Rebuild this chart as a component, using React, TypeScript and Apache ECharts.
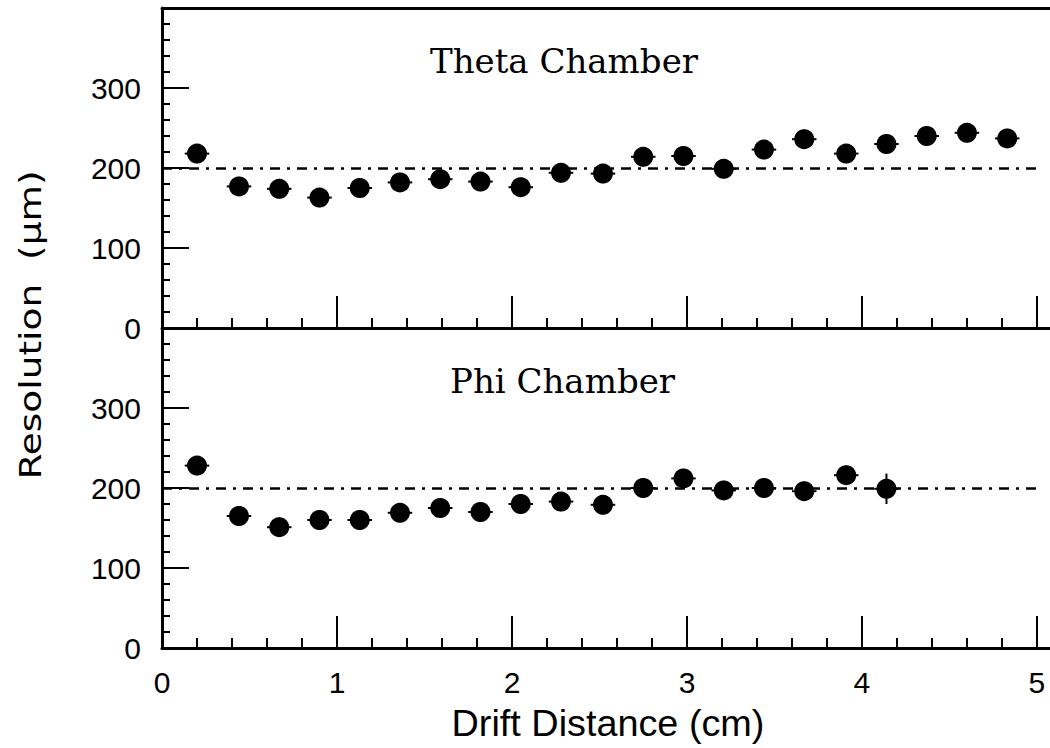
import React, { useEffect, useRef } from 'react';
import * as echarts from 'echarts';

// ---- data ----
const distance = [0.20, 0.44, 0.67, 0.90, 1.13, 1.36, 1.59, 1.82, 2.05, 2.28, 2.52, 2.75, 2.98, 3.21, 3.44, 3.67, 3.91, 4.14, 4.37, 4.60, 4.83];
const thetaResolution = [218, 177, 174, 163, 175, 182, 186, 183, 176, 194, 193, 214, 215, 199, 223, 236, 218, 230, 240, 244, 237];
const thetaError = [12, 12, 12, 12, 12, 12, 12, 12, 12, 12, 12, 12, 12, 12, 12, 12, 12, 12, 12, 12, 12];
const phiResolution = [228, 165, 151, 160, 160, 169, 175, 170, 180, 183, 179, 200, 212, 197, 200, 196, 216, 199];
const phiError = [12, 12, 12, 12, 12, 12, 12, 12, 12, 12, 12, 12, 12, 12, 12, 12, 12, 19];
const distanceHalfWidth = 0.07;
const referenceLevel = 200;
const panelTitles = ['Theta Chamber', 'Phi Chamber'];
const xTitle = 'Drift Distance (cm)';
const yTitle = 'Resolution  (\u03bcm)';
const xMin = 0;
const xMax = 5.246;
const xInterval = 1;
const yMin = 0;
const yMax = 400;
const yInterval = 100;

const INK = '#000';

function errorBars(api: any) {
  const x = api.value(0);
  const y = api.value(1);
  const e = api.value(2);
  const top = api.coord([x, y + e]);
  const bottom = api.coord([x, y - e]);
  const left = api.coord([x - distanceHalfWidth, y]);
  const right = api.coord([x + distanceHalfWidth, y]);
  const style = { stroke: INK, lineWidth: 2 };
  return {
    type: 'group',
    children: [
      { type: 'line', shape: { x1: top[0], y1: top[1], x2: bottom[0], y2: bottom[1] }, style },
      { type: 'line', shape: { x1: left[0], y1: left[1], x2: right[0], y2: right[1] }, style },
    ],
  };
}

function buildOption() {
  // the plot frame runs past the right edge of the picture, as in the cropped original
  const grids = [
    { left: 162, top: 8, width: 918, height: 320 },
    { left: 162, top: 328, width: 918, height: 320 },
  ];

  const xAxes: any[] = [0, 1].map((i) => ({
    type: 'value',
    gridIndex: i,
    position: 'bottom',
    min: xMin,
    max: xMax,
    interval: xInterval,
    axisLine: { show: true, onZero: false, lineStyle: { color: INK, width: 3 } },
    axisTick: { show: true, inside: true, length: 32, lineStyle: { color: INK, width: 2 } },
    minorTick: { show: true, splitNumber: 5, length: 10, lineStyle: { color: INK, width: 2 } },
    splitLine: { show: false },
    minorSplitLine: { show: false },
    axisLabel:
      i === 1
        ? { show: true, color: INK, fontSize: 30, margin: 19, showMaxLabel: false }
        : { show: false },
  }));
  // frame line along the top of the upper panel
  xAxes.push({
    type: 'value',
    gridIndex: 0,
    position: 'top',
    min: xMin,
    max: xMax,
    interval: xInterval,
    axisLine: { show: true, onZero: false, lineStyle: { color: INK, width: 3 } },
    axisTick: { show: false },
    axisLabel: { show: false },
    splitLine: { show: false },
  });

  const yAxes = [0, 1].map((i) => ({
    type: 'value',
    gridIndex: i,
    min: yMin,
    max: yMax,
    interval: yInterval,
    axisLine: { show: true, onZero: false, lineStyle: { color: INK, width: 3 } },
    axisTick: { show: true, inside: true, length: 27, lineStyle: { color: INK, width: 2 } },
    minorTick: { show: true, splitNumber: 5, length: 8, lineStyle: { color: INK, width: 2 } },
    splitLine: { show: false },
    minorSplitLine: { show: false },
    axisLabel: { show: true, color: INK, fontSize: 30, margin: 21, showMaxLabel: false },
  }));

  const panels = [
    { values: thetaResolution, errors: thetaError },
    { values: phiResolution, errors: phiError },
  ];

  const series: any[] = [];
  panels.forEach((p, i) => {
    series.push({
      type: 'scatter',
      xAxisIndex: i,
      yAxisIndex: i,
      symbol: 'circle',
      symbolSize: 20,
      itemStyle: { color: INK, opacity: 1 },
      z: 4,
      data: p.values.map((v, k) => [distance[k], v]),
      markLine: {
        silent: true,
        animation: false,
        symbol: 'none',
        label: { show: false },
        lineStyle: { color: INK, width: 2.5, type: [10, 7, 3, 7], opacity: 1 },
        data: [{ yAxis: referenceLevel }],
      },
    });
    series.push({
      type: 'custom',
      xAxisIndex: i,
      yAxisIndex: i,
      z: 3,
      encode: { x: 0, y: 1 },
      renderItem: (_params: any, api: any) => errorBars(api),
      data: p.values.map((v, k) => [distance[k], v, p.errors[k]]),
    });
  });

  const graphic = [
    {
      type: 'text',
      x: 430,
      y: 61,
      style: { text: panelTitles[0], fill: INK, fontSize: 34, fontFamily: 'DejaVu Serif', textAlign: 'left', textVerticalAlign: 'middle' },
    },
    {
      type: 'text',
      x: 450,
      y: 381,
      style: { text: panelTitles[1], fill: INK, fontSize: 34, fontFamily: 'DejaVu Serif', textAlign: 'left', textVerticalAlign: 'middle' },
    },
    {
      type: 'text',
      x: 608,
      y: 724,
      scaleX: 1.05,
      style: { text: xTitle, fill: INK, fontSize: 36, textAlign: 'center', textVerticalAlign: 'middle' },
    },
    {
      type: 'text',
      x: 30,
      y: 325,
      rotation: Math.PI / 2,
      scaleX: 1.25,
      style: { text: yTitle, fill: INK, fontSize: 30, fontFamily: 'DejaVu Sans', textAlign: 'center', textVerticalAlign: 'middle' },
    },
    // white masks at the cropped right edge (the original has no right frame)
    { type: 'rect', z: 100, silent: true, shape: { x: 1042, y: 10, width: 10, height: 316 }, style: { fill: '#fff' } },
    { type: 'rect', z: 100, silent: true, shape: { x: 1042, y: 330, width: 10, height: 316 }, style: { fill: '#fff' } },
  ];

  return {
    animation: false,
    backgroundColor: '#fff',
    grid: grids,
    xAxis: xAxes,
    yAxis: yAxes,
    series,
    graphic,
  };
}

export default function App() {
  const ref = useRef<HTMLDivElement>(null);
  useEffect(() => {
    document.body.style.margin = '0';
    document.body.style.overflow = 'hidden';
    if (!ref.current) return;
    const chart = echarts.init(ref.current, undefined, { renderer: 'svg' });
    chart.setOption(buildOption() as any);
    return () => chart.dispose();
  }, []);
  return <div ref={ref} style={{ position: 'absolute', left: 0, top: 0, width: 1080, height: 748 }} />;
}
